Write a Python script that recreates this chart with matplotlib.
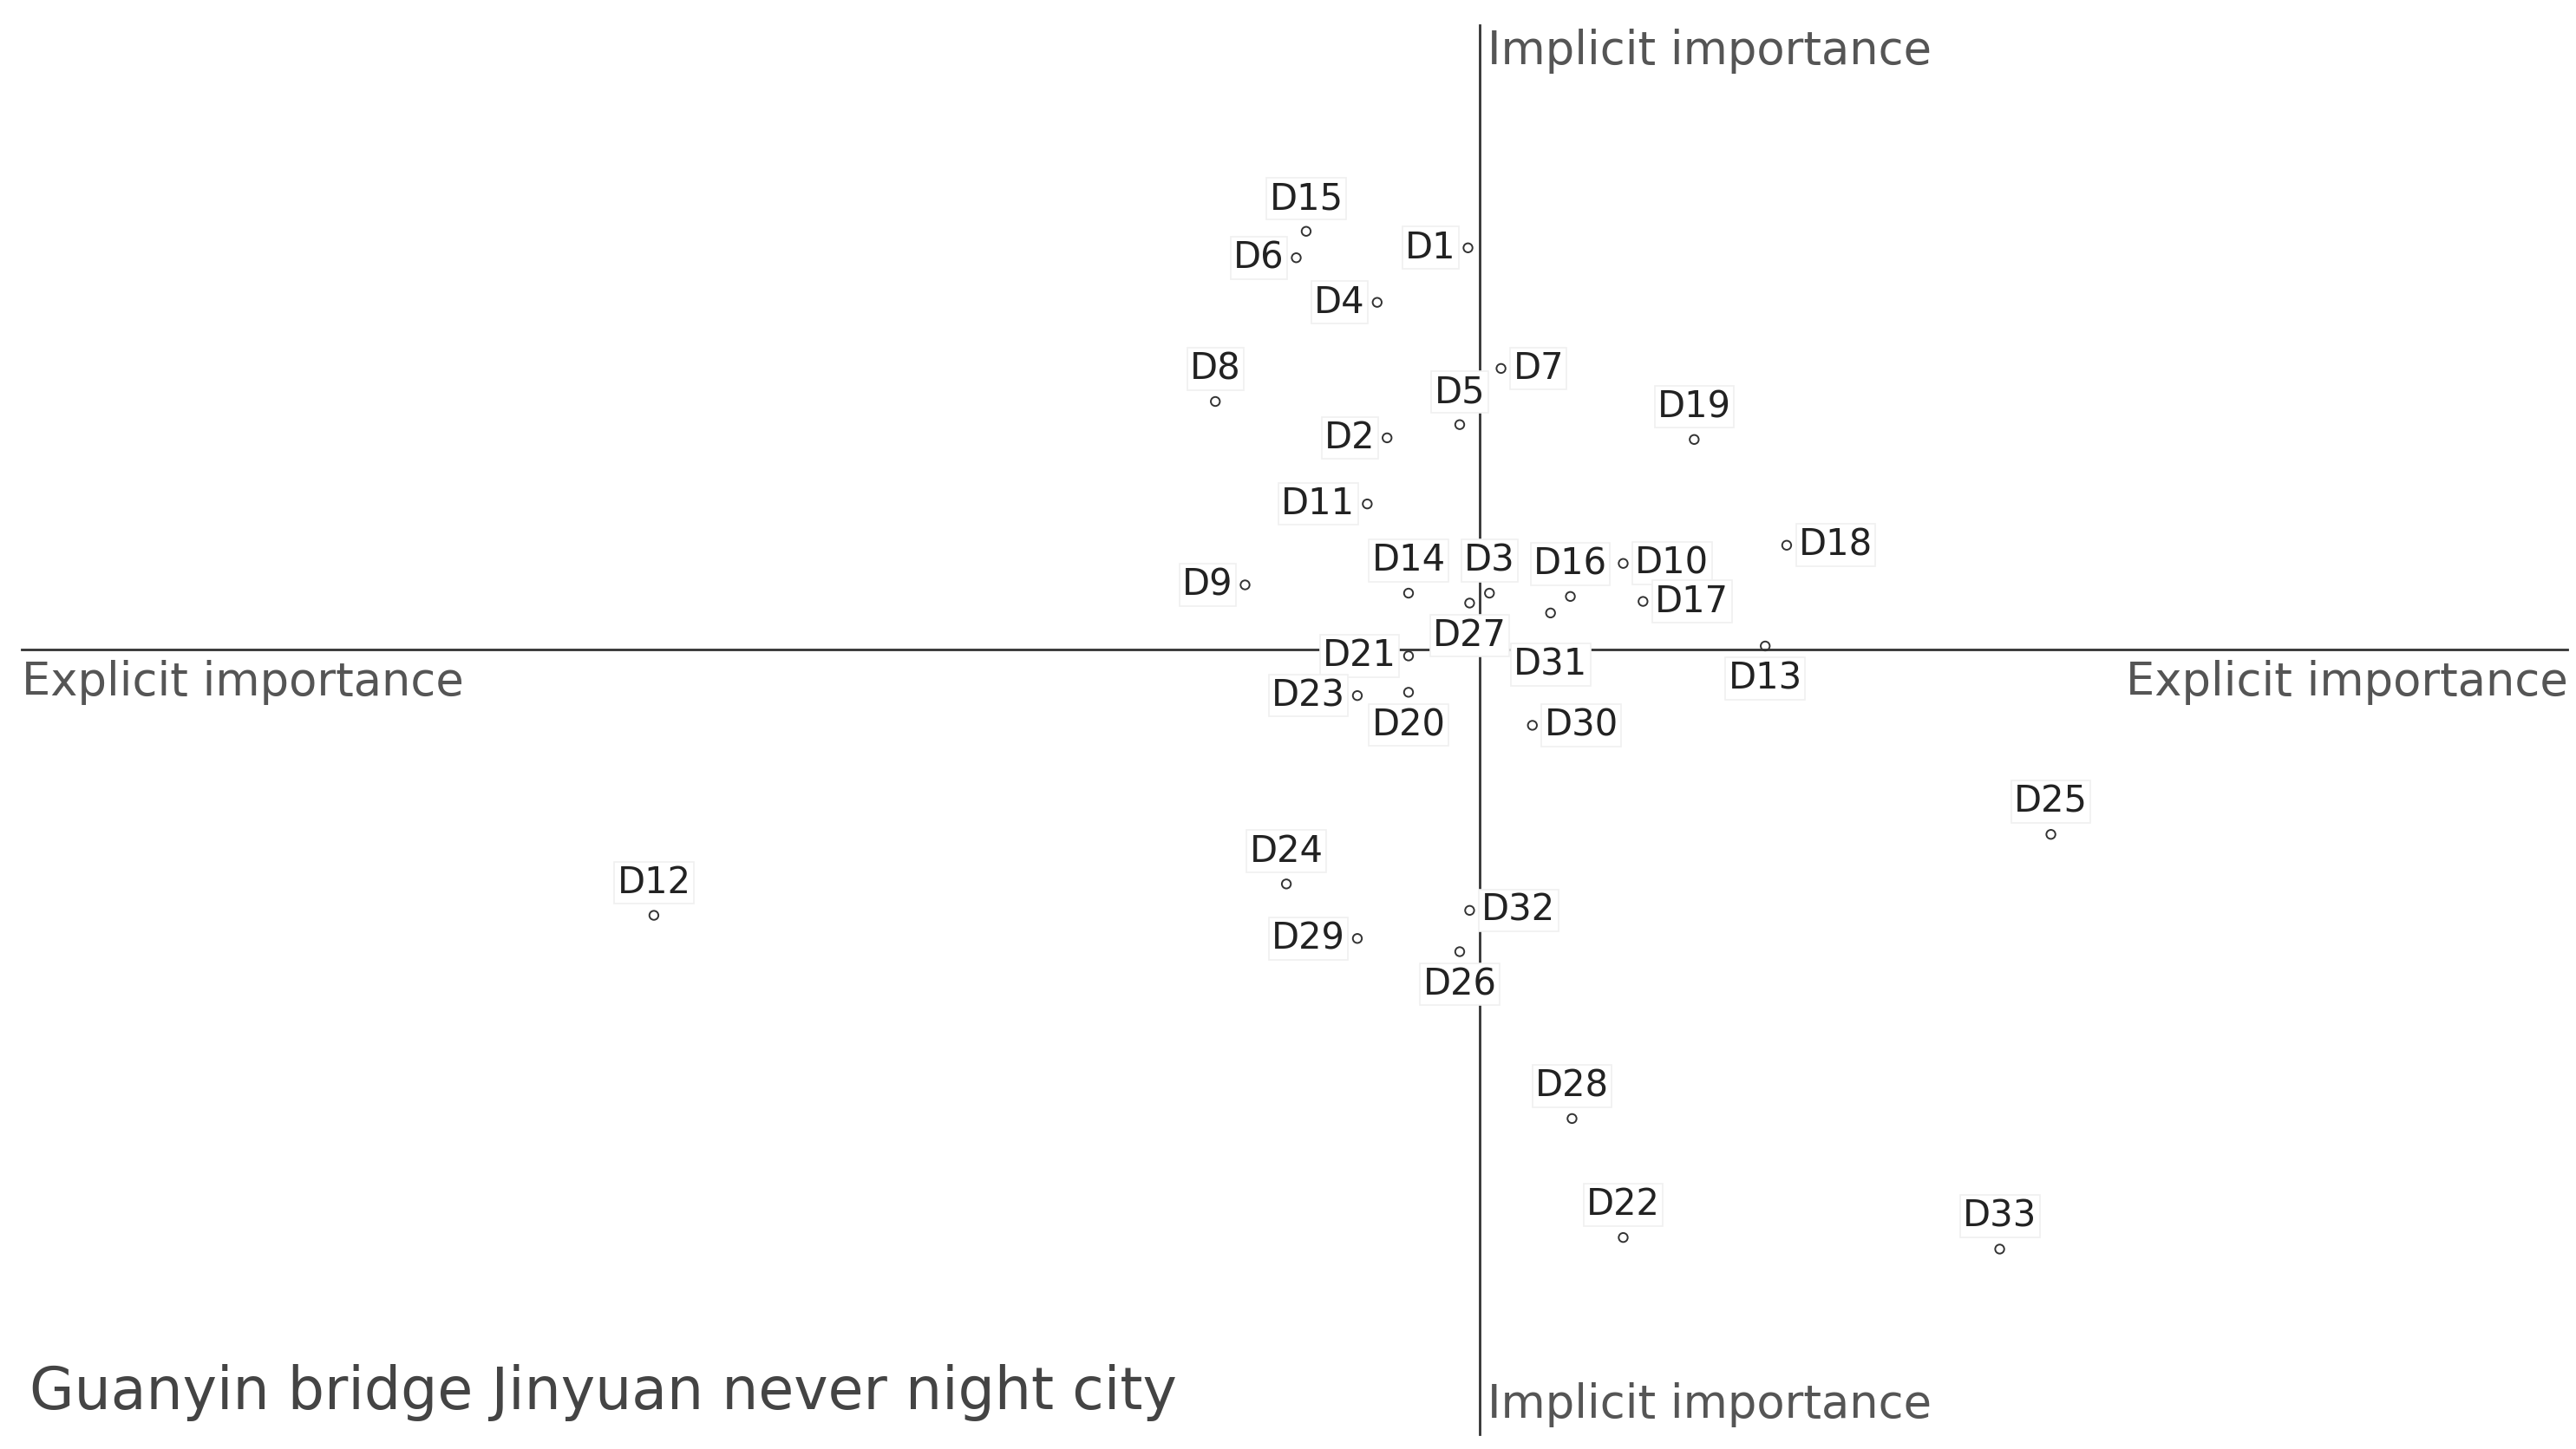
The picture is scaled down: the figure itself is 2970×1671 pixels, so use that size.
import matplotlib
matplotlib.use("Agg")
from matplotlib import pyplot as plt

# positions (explicit = x, implicit = y)
names = ["D1", "D2", "D3", "D4", "D5", "D6", "D7", "D8", "D9", "D10", "D11",
         "D12", "D13", "D14", "D15", "D16", "D17", "D18", "D19", "D20", "D21",
         "D22", "D23", "D24", "D25", "D26", "D27", "D28", "D29", "D30", "D31",
         "D32", "D33"]
explicit = [-0.07, -0.56, 0.06, -0.62, -0.12, -1.11, 0.13, -1.60, -1.42, 0.87, -0.68,
            -5.00, 1.73, -0.43, -1.05, 0.55, 0.99, 1.86, 1.30, -0.43, -0.43,
            0.87, -0.74, -1.17, 3.46, -0.12, -0.06, 0.56, -0.74, 0.32, 0.43,
            -0.06, 3.15]
implicit = [2.43, 1.28, 0.34, 2.10, 1.36, 2.37, 1.70, 1.50, 0.39, 0.52, 0.88,
            -1.61, 0.02, 0.34, 2.53, 0.32, 0.29, 0.63, 1.27, -0.26, -0.04,
            -3.56, -0.28, -1.42, -1.12, -1.83, 0.28, -2.84, -1.75, -0.46, 0.22,
            -1.58, -3.63]
where = ["left", "left", "above", "left", "above", "left", "right", "above", "left", "right", "left",
         "above", "below", "above", "above", "above", "right", "right", "above", "below", "left",
         "above", "left", "above", "above", "below", "below", "above", "left", "right", "below",
         "right", "above"]

offsets = {"left": (-5, 0, "right", "center"), "right": (5, 0, "left", "center"),
           "above": (0, 6, "center", "bottom"), "below": (0, -6, "center", "top")}

fig = plt.figure(figsize=(14.85, 8.355), dpi=200)
ax = fig.add_axes([0, 0, 1, 1])
ax.set_xlim(-8.96, 6.64)
ax.set_ylim(-4.84, 3.93)
ax.axis("off")

ax.plot([-8.83, 6.59], [0, 0], color="#333333", lw=1.0)
ax.plot([0, 0], [-4.75, 3.78], color="#333333", lw=1.0)

ax.scatter(explicit, implicit, s=14, facecolors="none", edgecolors="#333333", linewidths=0.7, zorder=3)
for n, x, y, w in zip(names, explicit, implicit, where):
    dx, dy, ha, va = offsets[w]
    if n == "D31":
        dy = -14
    ax.annotate(n, (x, y), xytext=(dx, dy), textcoords="offset points", ha=ha, va=va,
                fontsize=15, color="#222222",
                bbox=dict(boxstyle="square,pad=0.08", fc="white", ec="#f0f0f0", lw=0.6))

lab = dict(fontsize=19, color="#555555")
ax.text(0.05, 3.62, "Implicit importance", ha="left", va="center", **lab)
ax.text(0.05, -4.57, "Implicit importance", ha="left", va="center", **lab)
ax.text(-8.83, -0.2, "Explicit importance", ha="left", va="center", **lab)
ax.text(6.59, -0.2, "Explicit importance", ha="right", va="center", **lab)
ax.text(-8.78, -4.5, "Guanyin bridge Jinyuan never night city", ha="left", va="center",
        fontsize=24, color="#444444")

fig.savefig("out.png", dpi=200)
